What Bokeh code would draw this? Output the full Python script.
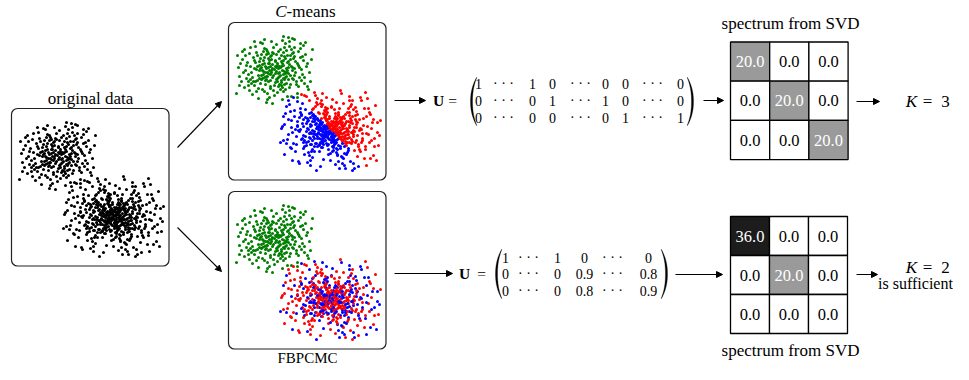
import numpy as np
from bokeh.plotting import figure
from bokeh.models import Range1d, Arrow, NormalHead
from bokeh.core.properties import value
from bokeh.embed import file_html
from bokeh.resources import INLINE

# ---------------- data ----------------
# small cluster: offsets (px) from its centre inside a panel
small_dx = [0,5,-6,10,-12,3,-3,14,-9,7, -15,18,2,-4,11,-10,20,-19,6,-1,
            13,-14,24,-23,8,-7,16,-17,1,-2, 4,-5,8,-8,12,-11,3,-4,9,-9,
            15,-16,5,-6,19,-20,22,-24,10,-12, 27,-28,0,2,26,-26,17,-18,30,-32,
            6,-6,11,-12,1,-2,7,-7,14,-15, 20,-21,9,-10,24,-25,33,-35,13,-14,
            18,-18,4,-4,21,-22,12,-13,28,-29, 2,-3,5,-6,9,-8,16,-17,10,-11,
            31,-30,8,-7,23,-24,36,-36,15,-16, 3,-1,12,-13,7,-8,19,-20,25,-26,
            38,14,20,29,-2,-38,26,-32,34,-10]
small_dy = [0,-3,4,2,-5,9,-10,-8,11,13, 1,-2,-15,17,8,-12,6,-7,-20,21,
            -14,14,-4,3,18,-18,15,-14,4,-5, -1,1,-6,7,-1,2,12,-13,5,-3,
            -5,6,15,-16,10,-1,12,10,-22,20, 0,-4,26,-25,-12,16,-20,22,8,-10,
            6,-6,-11,9,-8,8,-3,3,4,-4, -13,12,22,-21,17,-16,-6,7,27,-27,
            1,0,-18,19,-8,8,14,-15,5,1, 2,3,7,-2,-9,10,-10,11,10,-9,
            -15,18,-29,30,24,-22,12,-2,-28,29, -4,6,3,-2,16,-15,-17,16,-2,5,
            -20,-32,-30,-24,34,24,-26,-18,20,-30]
small_extra = [(3,-6),(-8,-1),(11,4),(-4,11),(7,-14),(-13,6),(17,-3),(-2,-17),(9,9),(-15,-8),
    (21,3),(-19,12),(5,-11),(-9,15),(14,10),(-5,-9),(1,13),(-17,-3),(12,-19),(-11,-18),
    (25,8),(-27,-7),(6,20),(-1,-22),(19,-11),(-23,14),(15,18),(-7,24),(29,-9),(-31,3),
    (2,-2),(-4,5),(8,1),(-10,-6),(4,8),(-6,12),(13,-7),(-14,-11),(10,15),(-3,-14),
    (18,-16),(-21,-12),(22,15),(-16,19),(11,-26),(-5,28),(27,11),(-25,21),(32,-3),(-34,-6),
    (0,16),(7,-8),(-12,1),(16,6),(-8,-20),(3,23),(20,-22),(-28,9),(24,-18),(-19,-23),
    (5,3),(-2,-1),(9,-4),(-7,7),(14,-2),(-11,5),(2,10),(-6,-11),(12,7),(-13,10),
    (30,14),(-33,12),(17,27),(-12,-26),(26,-21),(-29,-14),(35,3),(-22,25),(8,30),(-3,-28),
    (6,-2),(-9,3),(1,-9),(-4,-3),(10,-13),(-15,9),(18,9),(-20,-9),(4,17),(-1,-16),
    (23,-6),(-24,-3),(11,20),(-10,22),(20,-1),(-18,-17),(15,-23),(-26,12),(28,-13),(-30,-20),
    (37,-10),(33,17),(-35,16),(18,-31),(-8,33),(23,28),(-20,-28),(31,-27),(-37,-14),(9,-33),
    (1,-3),(4,4),(-3,1),(7,11),(-10,8),(13,1),(-5,-6),(9,-17),(-14,-1),(16,-14)]
# big cluster: offsets (px) from its centre inside a panel
big_dx = [0,4,-5,8,-9,2,-3,12,-13,6, -7,15,-16,10,-11,19,-20,3,-4,22,
          -23,17,-18,26,-27,7,-8,28,-29,13, 1,-2,5,-6,9,-10,3,-1,11,-12,
          14,-15,18,-19,6,-5,21,-22,16,-17, 30,-31,0,2,24,-25,32,-33,20,-21,
          7,-7,2,-3,10,-11,13,-14,4,-5, 36,-37,12,-13,38,-39,27,-28,34,-35,
          8,-9,17,-18,23,-24,1,-2,19,-20, 5,-4,9,-8,0,1,12,-13,15,-16,
          42,-43,-10,11,44,-45,31,-32,40,-41, 25,-26,6,-7,29,-30,14,-15,23,-22,
          3,-3,6,-6,2,-1,8,-9,10,-10, 16,-17,3,-4,20,-21,18,-19,26,-27,
          33,-34,8,-9,35,-36,22,-23,47,-48, 11,-12,4,-5,14,-15,7,-8,12,-11,
          50,-50,15,-16,45,-46,36,-37,28,-29, 21,-22,2,-3,25,-24,17,-18,31,-31,
          9,-9,6,-7,13,-14,5,-6,17,-18, 39,-40,19,-20,41,-42,43,-44,-26,24,
          27,-28,12,-13,32,-33,18,-19,29,-30, 1,-2,4,-5,7,-8,10,-11,3,-4,
          15,-16,19,-20,23,-24,0,1,26,-27, 48,-38,37,-47,22,35,-14,10,-42,46]
big_dy = [0,-2,3,5,-6,10,-11,-4,6,-13, 14,8,-9,16,-17,-3,2,20,-21,11,
          -12,-18,19,-6,5,25,-26,14,-15,-27, 3,-4,-6,7,1,0,-9,9,9,-10,
          -12,13,4,-5,18,-19,-10,11,15,-16, -2,1,30,-31,20,-21,10,-9,-24,25,
          2,-1,-7,6,-8,8,3,-2,14,-14, -14,13,33,-32,4,-3,26,-27,-22,21,
          -16,17,-1,0,6,-7,-24,24,12,-13, 5,-5,-3,4,-6,7,11,-12,-7,8,
          -8,9,36,-37,16,-17,-30,31,28,-26, -15,16,-28,29,0,-1,23,-24,-21,22,
          1,2,-1,-3,4,-2,8,9,-10,-8, 1,3,16,-16,-8,7,18,-18,10,-11,
          -5,6,31,-30,19,-20,-30,32,2,-4, -1,2,12,-12,7,-6,-12,13,-13,14,
          -10,12,38,-38,-25,24,35,-33,36,-36, 2,-1,21,-22,-11,12,22,-21,12,-13,
          6,-7,-9,8,-5,4,13,-13,8,-9, -18,17,-34,35,10,-11,25,-24,-35,38,
          -8,8,27,-26,3,-4,-22,21,19,-18, -1,1,-4,5,-6,6,3,-4,11,-10,
          13,-14,-15,14,0,1,23,-23,-19,18, 15,30,-32,-14,40,-38,40,-40,-30,30]
big_extra = [(2,5),(-3,-7),(7,-1),(-6,2),(1,-9),(5,10),(-10,4),(11,-6),(-4,13),(9,8),
    (-12,-3),(14,2),(-1,-14),(6,-11),(-8,11),(16,-9),(-15,-11),(3,17),(-17,6),(12,13),
    (-6,-16),(19,-5),(-2,19),(8,-18),(-20,-4),(21,9),(-13,16),(15,-16),(-19,14),(4,-21),
    (0,2),(3,-3),(-2,4),(5,1),(-5,-1),(2,-5),(-3,7),(7,4),(-7,-4),(4,-8),
    (10,0),(-9,-2),(1,10),(-1,-12),(13,-2),(-12,3),(6,12),(-4,-10),(11,-11),(-10,12),
    (24,-3),(-25,6),(7,24),(-9,-24),(22,-14),(-21,-17),(18,20),(-16,21),(27,5),(-28,-7),
    (17,4),(-14,-7),(8,15),(-7,-17),(20,-12),(-18,10),(14,16),(-15,-14),(24,1),(-23,-2),
    (33,-12),(-34,14),(5,34),(-4,-33),(30,21),(-30,-22),(37,-4),(-38,2),(19,-30),(-20,30),
    (1,6),(-4,1),(6,-4),(-1,-6),(3,9),(-8,-8),(9,3),(-6,6),(12,-4),(-11,-6),
    (15,5),(-13,8),(5,-14),(-3,15),(18,-9),(-17,-12),(10,18),(-12,-18),(21,13),(-22,-10),
    (29,-11),(-27,12),(13,28),(-14,-28),(32,8),(-33,-5),(25,-23),(-26,24),(35,16),(-36,-14),
    (41,-2),(-42,4),(9,38),(-8,-37),(40,-16),(-39,18),(23,33),(-24,-34),(44,8),(-46,-6),
    (2,-1),(-1,3),(4,6),(-6,-5),(8,-7),(-9,5),(7,9),(-5,10),(11,3),(-12,-1),
    (16,-2),(-16,1),(2,16),(-3,-18),(13,-14),(-14,13),(19,7),(-20,-6),(9,-22),(-11,21),
    (26,-9),(-26,10),(11,26),(-10,-27),(28,16),(-29,-16),(21,-26),(-18,27),(31,-1),(-32,0),
    (0,-4),(6,3),(-3,-2),(3,8),(-8,1),(9,-9),(-7,11),(12,6),(-10,-10),(14,-5),
    (23,4),(-21,3),(6,22),(-5,-23),(19,-18),(-24,15),(16,24),(-17,-22),(27,-16),(-29,9),
    (38,-22),(-39,-10),(14,35),(-15,-35),(43,-11),(-44,13),(34,28),(-33,-29),(47,-8),(-47,10),
    (4,-2),(-2,-8),(8,2),(-5,4),(1,12),(-9,-12),(13,9),(-13,-4),(5,-17),(-2,14),
    (18,1),(-19,3),(10,-13),(-8,17),(22,-7),(-23,-9),(15,11),(-16,16),(25,12),(-25,-13),
    (36,3),(-35,-1),(20,31),(-21,-30),(39,12),(-40,-19),(30,-33),(-31,33),(49,5),(-49,-2),
    (3,3),(-4,-4),(6,-8),(-7,5),(10,7),(-10,-3),(4,-12),(-2,8),(8,-15),(-15,4),
    (17,12),(-18,-15),(12,-8),(-11,15),(22,2),(-20,8),(7,19),(-6,-20),(26,-3),(-27,-4)]
# FBPCMC memberships of the big cluster (r = red, b = blue)
fbpcmc_labels = ("rrbrbrrbrb" "brrbrrbrbr" "rbrrbbrrbr" "brrrbrbrrb" "rbrbrrbrrb" "brrbrbrrbr"
                 "rrbrbbrrbr" "brbrrbrrbr" "rbrrbrbrbr" "rrbbrrbrrb" "brrbrrbrbr" "rbrbrrbbrr"
                 "brrbrbrrbr" "rbrrbrbrrb" "rrbrbrrbbr" "brrbrrbrbr" "rbrbrrbrrb" "brrbbrrbrr"
                 "rbrrbrbrbr" "rrbrbrrbrb" "brbrrbrrbr" "rbrrbrbbrr" "brrbrrbrbr" "rbrbrrbrrb"
                 "brrbrrbrbr" "rrbrbrrbrb" "rbrrbrrbbr" "brbrrbrrbr" "rrbrbrbrrb" "rbrrbbrrbr"
                 "brrbrrbrrb" "rbrbrrbrbr" "rrbrrbbrbr" "brbrrbrrbr" "rbrrbrbrrb" "rrbbrrbrbr"
                 "brrbrbrrbr" "rbrbrrbrrb" "rrbrbbrrbr" "brrbrrbrbr" "rbrrbrbrrb" "brbrrbrrbr"
                 "rrbrbrrbrb" "rbrrbrbbrr" "brrbrrbrbr" "rbrbrrbrrb" "rrbrbrrbbr" "brrbrbrrbr")

DOTS = "· · ·"
U_top = [["1", DOTS, "1", "0", DOTS, "0", "0", DOTS, "0"],
         ["0", DOTS, "0", "1", DOTS, "1", "0", DOTS, "0"],
         ["0", DOTS, "0", "0", DOTS, "0", "1", DOTS, "1"]]
U_bottom = [["1", DOTS, "1", "0", DOTS, "0"],
            ["0", DOTS, "0", "0.9", DOTS, "0.8"],
            ["0", DOTS, "0", "0.8", DOTS, "0.9"]]
spectrum_top = [[20.0, 0.0, 0.0], [0.0, 20.0, 0.0], [0.0, 0.0, 20.0]]
spectrum_bottom = [[36.0, 0.0, 0.0], [0.0, 20.0, 0.0], [0.0, 0.0, 0.0]]

# ---------------- figure ----------------
SERIF = value("Liberation Serif")
p = figure(width=953, height=364, x_range=Range1d(0, 953), y_range=Range1d(364, 0),
           output_backend="svg", toolbar_location=None, min_border=0,
           x_axis_type=None, y_axis_type=None)
p.grid.visible = False
p.outline_line_color = None
p.background_fill_color = "white"
p.border_fill_color = "white"

def txt(x, y, t, size="17px", style="normal", align="center", color="black", font=SERIF):
    p.text(x=x, y=y, text=t, text_font=font, text_font_size=size, text_font_style=style,
           text_align=align, text_baseline="middle", text_color=color)

# panel boxes
panels = {"orig": (11, 108), "cm": (228, 22), "fb": (228, 191)}
PW, PH = 157.5, 157.5
p.quad(left=[v[0] for v in panels.values()], right=[v[0] + PW for v in panels.values()],
       top=[v[1] for v in panels.values()], bottom=[v[1] + PH for v in panels.values()],
       fill_color=None, line_color="#222222", line_width=1.2, border_radius=6)

C1 = (46, 47)
C2 = (102, 108)
sdx = np.array(small_dx + [a for a, b in small_extra])
sdy = np.array(small_dy + [b for a, b in small_extra])
bdx = np.array(big_dx + [a for a, b in big_extra])
bdy = np.array(big_dy + [b for a, b in big_extra])

def pts(panel, c, dx, dy):
    ox, oy = panels[panel]
    return ox + c[0] + dx, oy + c[1] + dy

MS = 3.0
# original data
x, y = pts("orig", C1, sdx, sdy)
p.scatter(x, y, size=MS, color="black", line_color=None)
x, y = pts("orig", C2, bdx, bdy)
p.scatter(x, y, size=MS, color="black", line_color=None)

# C-means
x, y = pts("cm", C1, sdx, sdy)
p.scatter(x, y, size=MS, color="#008000", line_color=None)
x, y = pts("cm", C2, bdx, bdy)
cm_cols = ["#ff0000" if dy_ < dx_ else "#0000ff" for dx_, dy_ in zip(bdx, bdy)]
p.scatter(x, y, size=MS, color=cm_cols, line_color=None)

# FBPCMC
x, y = pts("fb", C1, sdx, sdy)
p.scatter(x, y, size=MS, color="#008000", line_color=None)
x, y = pts("fb", C2, bdx, bdy)
fb_cols = ["#ff0000" if c == "r" else "#0000ff" for c in fbpcmc_labels]
p.scatter(x, y, size=MS, color=fb_cols, line_color=None)

# titles
txt([90], [98], ["original data"])
txt([286], [11], ["C"], style="italic", align="right")
txt([286], [11], ["-means"], align="left")
txt([307], [357], ["FBPCMC"], size="15px")

# arrows
arrows = [(177, 147, 221, 101), (177, 227, 221, 271),
          (394, 100, 425, 100), (703, 100, 723, 100), (856, 101, 879, 101),
          (394, 273, 452, 273), (675, 274, 722, 274), (856, 274, 877, 274)]
for xs, ys, xe, ye in arrows:
    p.add_layout(Arrow(end=NormalHead(size=6, fill_color="black", line_color="black", line_width=1),
                       x_start=xs, y_start=ys, x_end=xe, y_end=ye, line_width=1.1, line_color="black"))

# U matrices
def U_label(xu, xe, y):
    txt([xu], [y], ["U"], size="15.5px", style="bold")
    txt([xe], [y], ["="], size="15.5px")

def matrix(entries, cols, rows):
    xs, ys, ts = [], [], []
    for r, row in enumerate(entries):
        for c, t in enumerate(row):
            xs.append(cols[c]); ys.append(rows[r]); ts.append(t)
    txt(xs, ys, ts, size="14px")

def paren(xo, yt, yb, side, w=6.0, th=1.7):
    t = np.linspace(-1, 1, 41)
    yc = (yt + yb) / 2; h = (yb - yt) / 2
    ys = yc + t * h
    outer = w * np.abs(t) ** 2.2
    inner = outer + th * (1 - t ** 2) + 0.35
    sgn = 1 if side == "left" else -1
    xo_ = xo + sgn * outer; xi_ = xo + sgn * inner
    p.patch(np.concatenate([xo_, xi_[::-1]]), np.concatenate([ys, ys[::-1]]),
            fill_color="black", line_color="black", line_width=0.3)

U_label(438, 452, 100)
matrix(U_top, [478, 503, 532, 552, 580, 605, 625, 652, 680], [83, 100, 117])
paren(470, 77, 125, "left")
paren(693, 77, 125, "right")

U_label(464, 481, 273)
matrix(U_bottom, [505, 528, 557, 584, 612, 648], [257, 273, 290])
paren(495, 249, 298, "left")
paren(667, 249, 298, "right")

# spectrum grids
def cell_color(v):
    if v >= 30:
        return "#1c1c1c"
    if v > 0:
        return "#9a9a9a"
    return "white"

def grid(vals, x0, y0, cell):
    xs, ys, fc, tc, ts = [], [], [], [], []
    for r, row in enumerate(vals):
        for c, v in enumerate(row):
            xs.append(x0 + (c + 0.5) * cell); ys.append(y0 + (r + 0.5) * cell)
            fc.append(cell_color(v)); tc.append("white" if v > 0 else "black")
            ts.append(f"{v:.1f}")
    p.rect(x=xs, y=ys, width=cell, height=cell, fill_color=fc, line_color="black", line_width=1.3)
    p.text(x=xs, y=ys, text=ts, text_color=tc, text_font=SERIF, text_font_size="16.5px",
           text_align="center", text_baseline="middle")

grid(spectrum_top, 730, 41.5, 39.2)
grid(spectrum_bottom, 730, 216, 39.0)
txt([790, 790], [23, 350], ["spectrum from SVD", "spectrum from SVD"])

# K results
for yk, kval in [(101, "3"), (267, "2")]:
    txt([911], [yk], ["K"], style="italic")
    txt([927], [yk], ["="])
    txt([945], [yk], [kval])
txt([915], [283], ["is sufficient"], size="16px")

open("out.html", "w").write(file_html(p, INLINE))
